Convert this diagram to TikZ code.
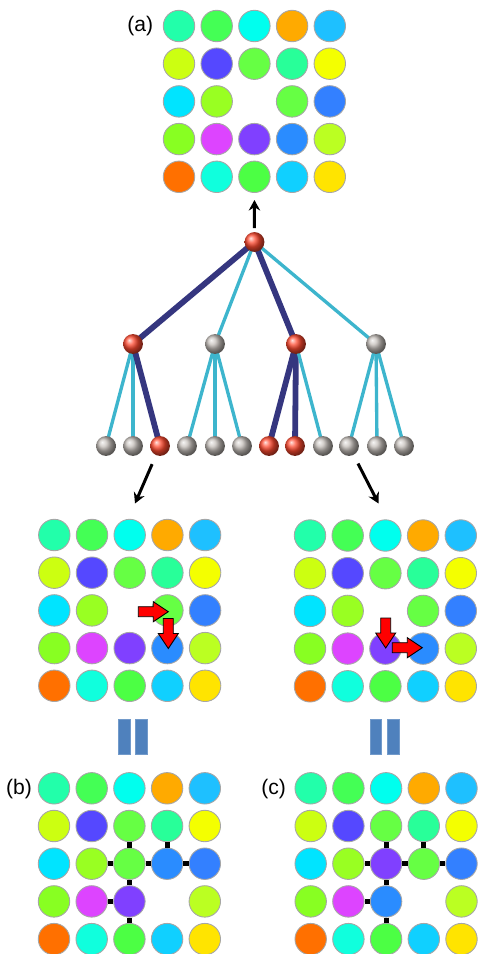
\documentclass[tikz,border=0pt]{standalone}
\usepackage{fontspec}
\setmainfont{Liberation Sans}
\usetikzlibrary{arrows.meta, backgrounds}

\definecolor{mint}{HTML}{22FFAA}
\definecolor{grass}{HTML}{44FF55}
\definecolor{aqua}{HTML}{00FFEE}
\definecolor{amber}{HTML}{FFAA00}
\definecolor{sky}{HTML}{1EC0FF}
\definecolor{citron}{HTML}{CCFF11}
\definecolor{indigo}{HTML}{5548FF}
\definecolor{leaf}{HTML}{66FF44}
\definecolor{jade}{HTML}{28FF99}
\definecolor{lemon}{HTML}{F4FF00}
\definecolor{ice}{HTML}{00E4FF}
\definecolor{chart}{HTML}{99FF22}
\definecolor{azure}{HTML}{3380FF}
\definecolor{pea}{HTML}{88FF22}
\definecolor{orchid}{HTML}{DD44FF}
\definecolor{grape}{HTML}{8040FF}
\definecolor{cobalt}{HTML}{2A8CFF}
\definecolor{kiwi}{HTML}{BBFF22}
\definecolor{tangerine}{HTML}{FF7000}
\definecolor{turq}{HTML}{10FFDD}
\definecolor{emerald}{HTML}{4CFF44}
\definecolor{cerulean}{HTML}{10D0FF}
\definecolor{sun}{HTML}{FFE400}
\definecolor{stone}{HTML}{C4BEB9}
\definecolor{ember}{HTML}{FF4A30}
\definecolor{edgedark}{HTML}{35367F}
\definecolor{edgelight}{HTML}{3DB5CD}
\definecolor{barblue}{HTML}{4F81BD}

% one 5x5 board: name, first dot, colours row by row (none = empty place)
\def\nodot{none}
\newcommand{\dotgrid}[4]{%
  \foreach \dc [count=\k from 0] in {#4} {
    \pgfmathtruncatemacro{\gr}{int(\k/5)+1}
    \pgfmathtruncatemacro{\gc}{mod(\k,5)+1}
    \edef\cur{\dc}
    \ifx\cur\nodot\else
      \node[dot, fill=\dc] (#1\gr\gc) at ({#2+(\gc-1)*37.7}, {#3+(\gr-1)*37.7}) {};
    \fi
  }
}
% red block arrow: centre, angle
\newcommand{\movearrow}[3]{%
  \draw[move, shift={(#1,#2)}, rotate=#3]
    (-15,-5) -- (0,-5) -- (0,-10) -- (15,0) -- (0,10) -- (0,5) -- (-15,5) -- cycle;
}

\begin{document}
\begin{tikzpicture}[x=0.02cm, y=-0.02cm,
  dot/.style={circle, draw=gray!70, line width=0.5pt, minimum size=17.9pt, inner sep=0pt},
  ball/.style={circle, shading=ball, minimum size=11.3pt, inner sep=0pt},
  hot/.style={ball, ball color=ember},
  cold/.style={ball, ball color=stone},
  trunk/.style={line width=3.3pt, draw=edgedark},
  twig/.style={line width=1.9pt, draw=edgelight},
  pointer/.style={line width=1.7pt, -{Stealth[length=6pt, width=6.5pt]}},
  move/.style={fill=red, draw=black, line width=0.5pt},
  link/.style={line width=2.8pt, black},
  bar/.style={rectangle, fill=barblue, draw=barblue!80!white, minimum width=6.5pt, minimum height=20pt, inner sep=0pt},
  tag/.style={font=\fontsize{12}{14}\selectfont, inner sep=0pt}]
  \useasboundingbox (0,0) rectangle (479,954);

  % (a)
  \dotgrid{a}{179}{26}{mint, grass, aqua, amber, sky, citron, indigo, leaf, jade, lemon,
    ice, chart, none, leaf, azure, pea, orchid, grape, cobalt, kiwi,
    tangerine, turq, emerald, cerulean, sun}
  \node[tag] (taga) at (140.3, 26.5) {(a)};

  % tree
  \node[hot] (root) at (254.5, 242) {};
  \node[hot] (m1) at (133, 344) {};
  \node[cold] (m2) at (215, 344) {};
  \node[hot] (m3) at (296, 344) {};
  \node[cold] (m4) at (376, 344) {};
  \node[cold] (l1) at (106, 446) {};
  \node[cold] (l2) at (133, 446) {};
  \node[hot] (l3) at (160, 446) {};
  \node[cold] (l4) at (187, 446) {};
  \node[cold] (l5) at (215, 446) {};
  \node[cold] (l6) at (242, 446) {};
  \node[hot] (l7) at (269, 446) {};
  \node[hot] (l8) at (295, 446) {};
  \node[cold] (l9) at (323, 446) {};
  \node[cold] (l10) at (349, 446) {};
  \node[cold] (l11) at (377, 446) {};
  \node[cold] (l12) at (404, 446) {};

  \begin{scope}[on background layer]
    \draw[trunk] (root.center) -- (m1.center);
    \draw[twig] (root.center) -- (m2.center);
    \draw[trunk] (root.center) -- (m3.center);
    \draw[twig] (root.center) -- (m4.center);
    \draw[twig] (m1.center) -- (l1.center);
    \draw[twig] (m1.center) -- (l2.center);
    \draw[trunk] (m1.center) -- (l3.center);
    \draw[twig] (m2.center) -- (l4.center);
    \draw[twig] (m2.center) -- (l5.center);
    \draw[twig] (m2.center) -- (l6.center);
    \draw[trunk] (m3.center) -- (l7.center);
    \draw[trunk] (m3.center) -- (l8.center);
    \draw[twig] (m3.center) -- (l9.center);
    \draw[twig] (m4.center) -- (l10.center);
    \draw[twig] (m4.center) -- (l11.center);
    \draw[twig] (m4.center) -- (l12.center);
  \end{scope}

  \draw[pointer, shorten <=2pt, shorten >=4pt] (root) -- (a53);

  % two tries
  \dotgrid{p}{54.3}{535}{mint, grass, aqua, amber, sky, citron, indigo, leaf, jade, lemon,
    ice, chart, none, leaf, azure, pea, orchid, grape, cobalt, kiwi,
    tangerine, turq, emerald, cerulean, sun}
  \dotgrid{q}{310}{535.5}{mint, grass, aqua, amber, sky, citron, indigo, leaf, jade, lemon,
    ice, chart, none, leaf, azure, pea, orchid, grape, cobalt, kiwi,
    tangerine, turq, emerald, cerulean, sun}

  \coordinate (ph) at (135, 503.5);
  \coordinate (qh) at (378.5, 503.5);
  \draw[pointer, shorten <=5.4pt] (l3) -- (ph);
  \draw[pointer, shorten <=5.4pt] (l10) -- (qh);

  \movearrow{153.3}{611.7}{0}
  \movearrow{168.3}{633.5}{-90}
  \movearrow{385.7}{633}{-90}
  \movearrow{407.3}{647.7}{0}

  % equal signs
  \node[bar] (eqb1) at (124.5, 736.5) {};
  \node[bar] (eqb2) at (141.5, 736.5) {};
  \node[bar] (eqc1) at (376, 736.5) {};
  \node[bar] (eqc2) at (393.5, 736.5) {};

  % (b)
  \dotgrid{b}{54}{788.3}{mint, grass, aqua, amber, sky, citron, indigo, leaf, jade, lemon,
    ice, chart, leaf, cobalt, azure, pea, orchid, grape, none, kiwi,
    tangerine, turq, emerald, cerulean, sun}
  \node[tag] (tagb) at (19, 788.8) {(b)};
  \draw[link] (b33) -- (b23);
  \draw[link] (b33) -- (b32);
  \draw[link] (b33) -- (b34);
  \draw[link] (b33) -- (b43);
  \draw[link] (b34) -- (b24);
  \draw[link] (b34) -- (b35);
  \draw[link] (b43) -- (b42);
  \draw[link] (b43) -- (b53);

  % (c)
  \dotgrid{c}{310.7}{788.3}{mint, grass, aqua, amber, sky, citron, indigo, leaf, jade, lemon,
    ice, chart, grape, leaf, azure, pea, orchid, cobalt, none, kiwi,
    tangerine, turq, emerald, cerulean, sun}
  \node[tag] (tagc) at (273.7, 788.8) {(c)};
  \draw[link] (c33) -- (c23);
  \draw[link] (c33) -- (c32);
  \draw[link] (c33) -- (c34);
  \draw[link] (c33) -- (c43);
  \draw[link] (c34) -- (c24);
  \draw[link] (c34) -- (c35);
  \draw[link] (c43) -- (c42);
  \draw[link] (c43) -- (c53);
\end{tikzpicture}
\end{document}
